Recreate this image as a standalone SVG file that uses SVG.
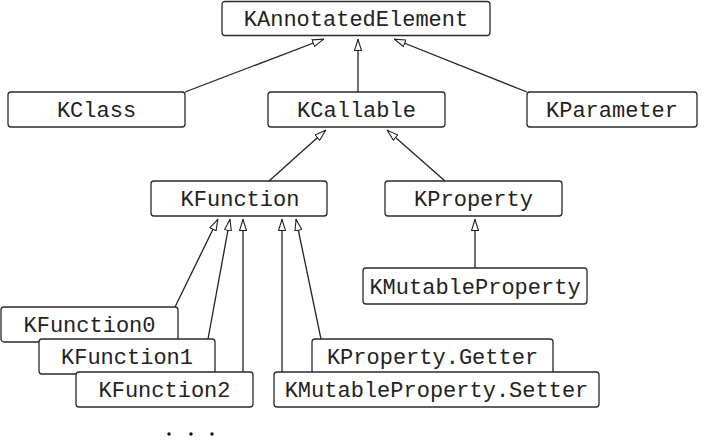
<svg xmlns="http://www.w3.org/2000/svg" width="705" height="445" viewBox="0 0 705 445">
  <style>
    .box { fill: #ffffff; stroke: #2a2a2a; stroke-width: 1.3; }
    .lbl { font-family: "Liberation Mono", "Courier New", monospace; font-size: 22px; fill: #222222; text-anchor: middle; }
    .edge { fill: none; stroke: #222222; stroke-width: 1.3; marker-end: url(#open); }
  </style>
  <defs>
    <marker id="open" viewBox="0 0 12 8" refX="12" refY="4" markerWidth="12" markerHeight="8" markerUnits="userSpaceOnUse" orient="auto">
      <path d="M0.5,0.5 L11.5,4 L0.5,7.5 Z" fill="#ffffff" stroke="#222222" stroke-width="1.1"/>
    </marker>
  </defs>

  <rect width="705" height="445" fill="#ffffff"/>

  <g id="connectors">
    <path class="edge" d="M185,92 L324,39"/>
    <path class="edge" d="M358,92 L358,39"/>
    <path class="edge" d="M527,92 L394,39"/>
    <path class="edge" d="M269,181 L326,130"/>
    <path class="edge" d="M445,181 L387,130"/>
    <path class="edge" d="M475,268 L475,219"/>
    <path class="edge" d="M175,307 L218,219"/>
    <path class="edge" d="M208,339 L230,219"/>
    <path class="edge" d="M243,372 L243,219"/>
    <path class="edge" d="M282,372 L282,219"/>
    <path class="edge" d="M321,339 L296,219"/>
  </g>

  <g id="KAnnotatedElement">
    <rect class="box" x="222" y="1.5" width="268" height="34" rx="3"/>
    <text class="lbl" x="356" y="26">KAnnotatedElement</text>
  </g>
  <g id="KClass">
    <rect class="box" x="8" y="92" width="177" height="35" rx="3"/>
    <text class="lbl" x="96.5" y="117">KClass</text>
  </g>
  <g id="KCallable">
    <rect class="box" x="268" y="92" width="177" height="35" rx="3"/>
    <text class="lbl" x="356.5" y="117">KCallable</text>
  </g>
  <g id="KParameter">
    <rect class="box" x="527" y="92" width="170" height="35" rx="3"/>
    <text class="lbl" x="612" y="117">KParameter</text>
  </g>
  <g id="KFunction">
    <rect class="box" x="151" y="181" width="176" height="35" rx="3"/>
    <text class="lbl" x="240" y="206">KFunction</text>
  </g>
  <g id="KProperty">
    <rect class="box" x="385" y="181" width="177" height="35" rx="3"/>
    <text class="lbl" x="473.5" y="206">KProperty</text>
  </g>
  <g id="KMutableProperty">
    <rect class="box" x="363" y="268" width="224" height="36" rx="3"/>
    <text class="lbl" x="475" y="294">KMutableProperty</text>
  </g>
  <g id="KFunction0">
    <rect class="box" x="1" y="307" width="177" height="35" rx="3"/>
    <text class="lbl" x="89.5" y="332">KFunction0</text>
  </g>
  <g id="KFunction1">
    <rect class="box" x="39" y="339" width="176" height="35" rx="3"/>
    <text class="lbl" x="127" y="364">KFunction1</text>
  </g>
  <g id="KFunction2">
    <rect class="box" x="76" y="372" width="177" height="35" rx="3"/>
    <text class="lbl" x="164.5" y="397">KFunction2</text>
  </g>
  <g id="KPropertyGetter">
    <rect class="box" x="312" y="339" width="241" height="35" rx="3"/>
    <text class="lbl" x="432.5" y="364">KProperty.Getter</text>
  </g>
  <g id="KMutablePropertySetter">
    <rect class="box" x="274" y="372" width="325" height="35" rx="3"/>
    <text class="lbl" x="436.5" y="397">KMutableProperty.Setter</text>
  </g>

  <g id="ellipsis" fill="#111111">
    <circle cx="169" cy="434" r="1.7"/>
    <circle cx="191" cy="434" r="1.7"/>
    <circle cx="212" cy="434" r="1.7"/>
  </g>
</svg>
